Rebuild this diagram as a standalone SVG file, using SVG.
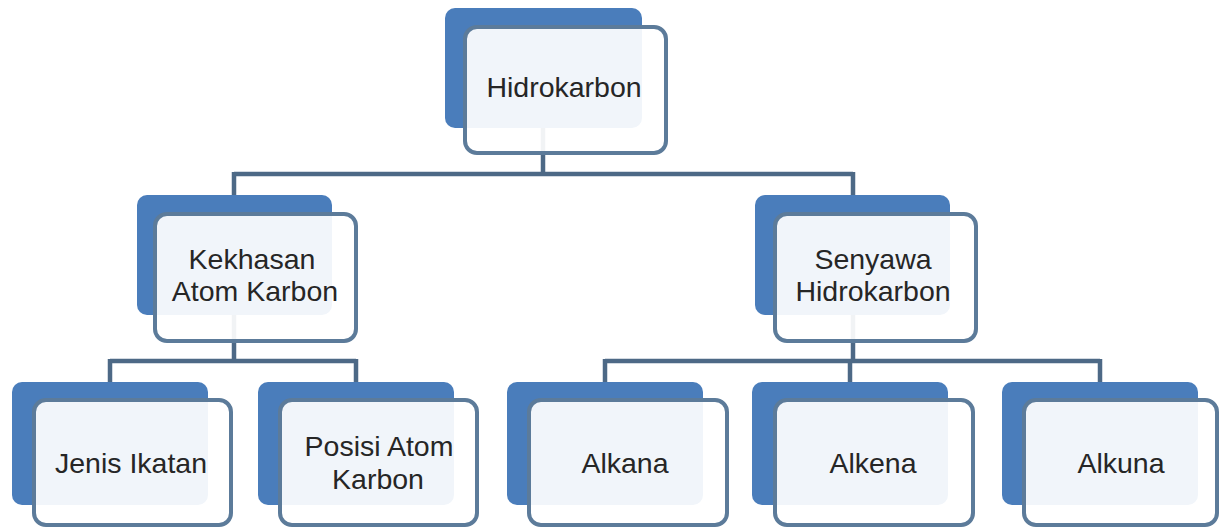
<svg xmlns="http://www.w3.org/2000/svg" width="1220" height="529" viewBox="0 0 1220 529">
<style>
.back{fill:#4a7dbb}
.front{fill:#ffffff;fill-opacity:0.92;stroke:#5c7b9a;stroke-width:4}
.lbl{font-family:"Liberation Sans",Arial,sans-serif;font-size:28.5px;fill:#262626;text-anchor:middle}
.conn{fill:none;stroke:#4d6986;stroke-width:4.5}
</style>
<rect width="1220" height="529" fill="#ffffff"/>
<g id="connectors">
<path class="conn" d="M543 128V174M234 174H853M234 172V195M853 172V195"/>
<path class="conn" d="M234 315V361M110 361H356M110 359V382M356 359V382"/>
<path class="conn" d="M853 315V361M605 361H1100M605 359V382M850 359V382M1100 359V382"/>
</g>
<g id="n-hidrokarbon">
<rect class="back" x="445" y="8" width="197" height="120" rx="10"/>
<rect class="front" x="465" y="27" width="201" height="126" rx="12"/>
<text class="lbl" x="564" y="97">Hidrokarbon</text>
</g>
<g id="n-kekhasan">
<rect class="back" x="137" y="195" width="195" height="120" rx="10"/>
<rect class="front" x="155" y="214" width="201" height="127" rx="12"/>
<text class="lbl" x="252" y="269">Kekhasan</text>
<text class="lbl" x="255" y="301">Atom Karbon</text>
</g>
<g id="n-senyawa">
<rect class="back" x="755" y="195" width="195" height="120" rx="10"/>
<rect class="front" x="775" y="214" width="201" height="127" rx="12"/>
<text class="lbl" x="873" y="269">Senyawa</text>
<text class="lbl" x="873" y="301">Hidrokarbon</text>
</g>
<g id="n-jenis">
<rect class="back" x="12" y="382" width="196" height="123" rx="10"/>
<rect class="front" x="34" y="400" width="197" height="125" rx="12"/>
<text class="lbl" x="131" y="473">Jenis Ikatan</text>
</g>
<g id="n-posisi">
<rect class="back" x="258" y="382" width="196" height="123" rx="10"/>
<rect class="front" x="280" y="400" width="197" height="125" rx="12"/>
<text class="lbl" x="379" y="456">Posisi Atom</text>
<text class="lbl" x="378" y="489">Karbon</text>
</g>
<g id="n-alkana">
<rect class="back" x="507" y="382" width="196" height="123" rx="10"/>
<rect class="front" x="529" y="400" width="198" height="125" rx="12"/>
<text class="lbl" x="625" y="473">Alkana</text>
</g>
<g id="n-alkena">
<rect class="back" x="752" y="382" width="196" height="123" rx="10"/>
<rect class="front" x="775" y="400" width="198" height="125" rx="12"/>
<text class="lbl" x="873" y="473">Alkena</text>
</g>
<g id="n-alkuna">
<rect class="back" x="1002" y="382" width="196" height="123" rx="10"/>
<rect class="front" x="1024" y="400" width="193" height="125" rx="12"/>
<text class="lbl" x="1121" y="473">Alkuna</text>
</g>
</svg>
